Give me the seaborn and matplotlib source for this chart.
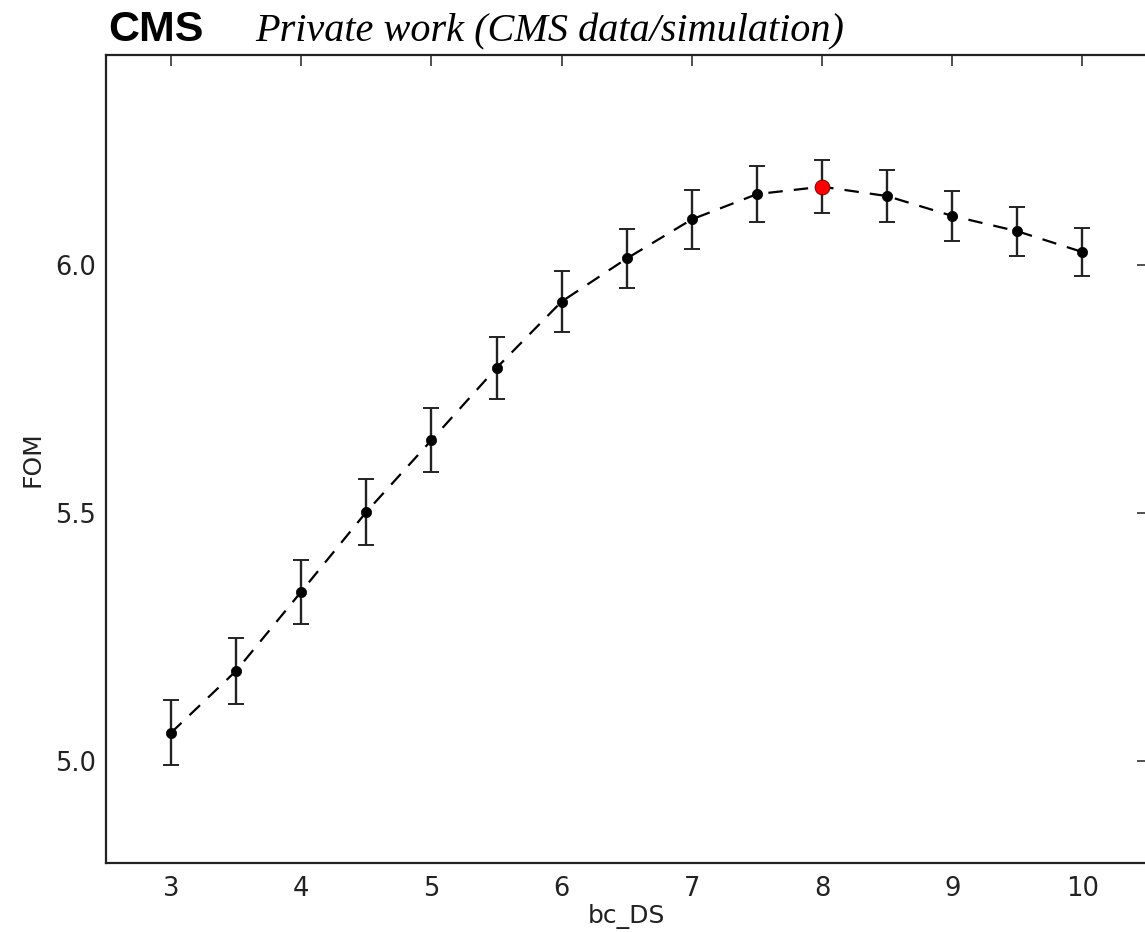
import numpy as np
import pandas as pd
import matplotlib
matplotlib.use("Agg")
import matplotlib.pyplot as plt
import seaborn as sns

# data
bc_ds = [3.0, 3.5, 4.0, 4.5, 5.0, 5.5, 6.0, 6.5, 7.0, 7.5, 8.0, 8.5, 9.0, 9.5, 10.0]
fom = [5.056, 5.181, 5.341, 5.502, 5.647, 5.793, 5.927, 6.014, 6.093, 6.144,
       6.159, 6.140, 6.100, 6.069, 6.027]
fom_err = [0.066, 0.066, 0.065, 0.066, 0.064, 0.062, 0.061, 0.059, 0.060, 0.057,
           0.053, 0.053, 0.050, 0.049, 0.048]
best_idx = 10
x_ticks = [3, 4, 5, 6, 7, 8, 9, 10]
y_ticks = [5.0, 5.5, 6.0]

df = pd.DataFrame({"bc_DS": bc_ds, "FOM": fom, "err": fom_err})

sns.set_style("white")
plt.rcParams["font.family"] = "sans-serif"
plt.rcParams["font.sans-serif"] = ["DejaVu Sans"]

fig = plt.figure(figsize=(11.45, 9.32), dpi=100)
ax = fig.add_axes([105.9 / 1145, 69 / 932, (1147.6 - 105.9) / 1145, 808 / 932])

sns.lineplot(data=df, x="bc_DS", y="FOM", ax=ax, color="black", lw=1.6,
             dashes=False, zorder=2)
ax.lines[0].set_dashes((6.5, 5))
ax.errorbar(df["bc_DS"], df["FOM"], yerr=df["err"], fmt="none", ecolor="#222222",
            elinewidth=1.7, capsize=6, capthick=1.4, zorder=3)
sns.scatterplot(x=df["bc_DS"].drop(best_idx), y=df["FOM"].drop(best_idx), ax=ax,
                color="black", s=55, edgecolor="black", linewidth=0.5, zorder=4)
sns.scatterplot(x=[df["bc_DS"][best_idx]], y=[df["FOM"][best_idx]], ax=ax,
                color="red", s=115, edgecolor="#600000", linewidth=0.6, zorder=5)

ax.set_xlim(2.5, 10.5)
ax.set_ylim(4.793, 6.425)
ax.set_xticks(x_ticks)
ax.set_xticklabels([str(t) for t in x_ticks])
ax.set_yticks(y_ticks)
ax.set_yticklabels([f"{t:.1f}" for t in y_ticks])
ax.tick_params(direction="in", length=8, width=1.1, colors="#222222",
               labelsize=18.5, top=True, right=True, labelcolor="#222222")
ax.tick_params(axis="y", pad=7)
ax.tick_params(axis="x", pad=9)
for lab in ax.get_xticklabels() + ax.get_yticklabels():
    lab.set_family("DejaVu Sans")
for s in ax.spines.values():
    s.set_visible(True)
    s.set_color("#222222")
    s.set_linewidth(1.6)

ax.set_xlabel("bc_DS", fontsize=18, color="#222222", labelpad=2, family="DejaVu Sans")
ax.set_ylabel("FOM", fontsize=18, color="#222222", labelpad=8, family="DejaVu Sans")

fig.text(108 / 1145, 1 - 41 / 932, "CMS", fontsize=31, fontweight="bold",
         family="Liberation Sans", ha="left", va="baseline", color="black")
fig.text(255 / 1145, 1 - 41 / 932, "Private work (CMS data/simulation)", fontsize=29,
         style="italic", family="Liberation Serif", ha="left", va="baseline",
         color="black")

fig.savefig("out.png", dpi=100)
